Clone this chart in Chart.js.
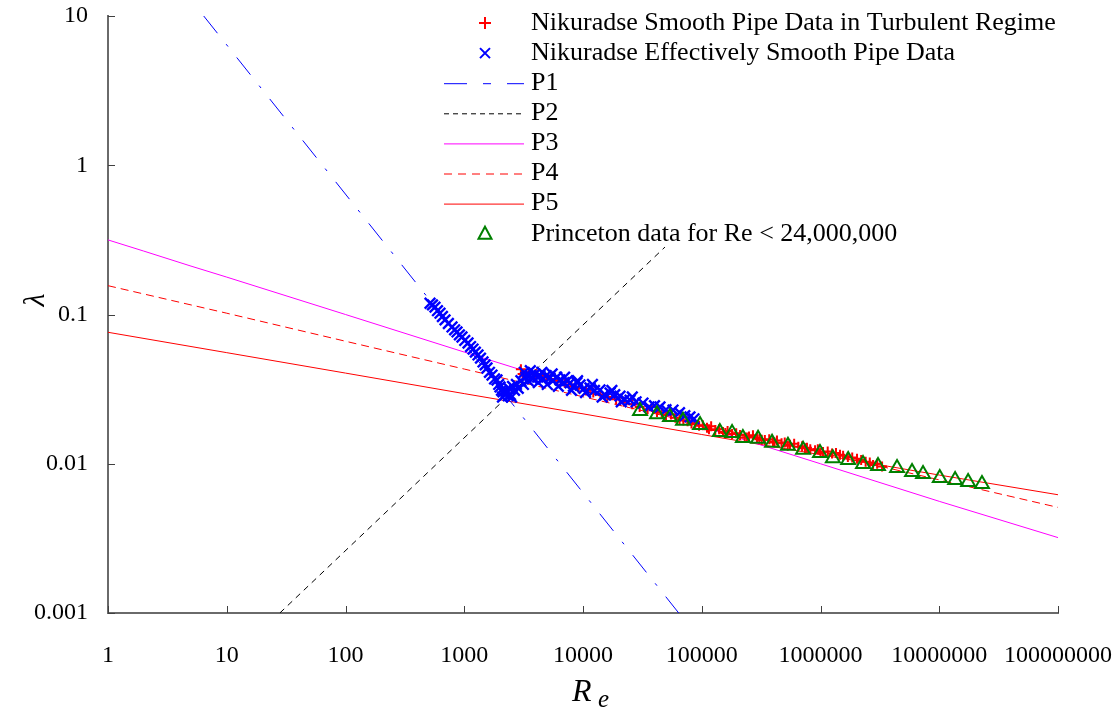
<!DOCTYPE html>
<html>
<head>
<meta charset="utf-8">
<title>Friction factor vs Reynolds number</title>
<script src="https://cdn.jsdelivr.net/npm/chart.js@4.4.0/dist/chart.umd.min.js"></script>
<style>
  body { margin: 0; background: #fff; }
</style>
</head>
<body>
<canvas id="frictionChart" width="1115" height="709"></canvas>
<script>
// axis ticks
const xTicks = [1, 10, 100, 1000, 10000, 100000, 1000000, 10000000, 100000000];
const xTickLabels = ['1', '10', '100', '1000', '10000', '100000', '1000000', '10000000', '100000000'];
const yTicks = [0.001, 0.01, 0.1, 1, 10];
const yTickLabels = ['0.001', '0.01', '0.1', '1', '10'];

// Nikuradse smooth pipe, turbulent (red +)
const smoothRe = [3000, 3100, 3500, 4000, 4600, 5300, 6100, 7000, 8000, 9200, 10600, 12200, 14000, 16000,
  19000, 22000, 26000, 30000, 35000, 42000, 50000, 60000, 70000, 82000, 95000, 110700, 120000, 130000,
  151000, 165000, 180000, 210000, 230000, 250000, 292000, 320000, 340000, 398000, 430000, 470000, 553000,
  600000, 650000, 769000, 820000, 900000, 1050000, 1150000, 1250000, 1460000, 1550000, 1700000, 2030000,
  2200000, 2400000, 2770000, 3000000, 3300000,
  38000, 46000, 55000, 65000, 76000, 88000, 102000, 115000, 140000, 158000, 195000, 240000, 270000,
  305000, 370000, 410000, 500000, 530000, 700000, 740000, 950000, 1000000, 1350000, 1850000, 2600000];
const smoothLambda = [0.043, 0.040, 0.041, 0.040, 0.039, 0.037, 0.036, 0.035, 0.033, 0.032, 0.031, 0.030, 0.029, 0.028,
  0.027, 0.026, 0.025, 0.024, 0.0232, 0.0222, 0.0212, 0.0203, 0.0195, 0.0186, 0.018, 0.0174, 0.0178, 0.0168,
  0.0163, 0.0166, 0.0158, 0.0156, 0.0150, 0.0152, 0.0149, 0.0145, 0.0144, 0.0140, 0.0143, 0.0137, 0.0134,
  0.0136, 0.0130, 0.0128, 0.0125, 0.0123, 0.0120, 0.0121, 0.0117, 0.0115, 0.0113, 0.0111, 0.0108,
  0.0106, 0.0103, 0.0098, 0.0100, 0.0096,
  0.0240, 0.0220, 0.0214, 0.0198, 0.0193, 0.0184, 0.0181, 0.0170, 0.0170, 0.0161, 0.0160, 0.0150, 0.0155,
  0.0146, 0.0146, 0.0139, 0.0139, 0.0132, 0.0131, 0.0127, 0.0125, 0.0118, 0.0118, 0.0110, 0.0102];

// Nikuradse effectively smooth (blue x)
const effRe = [515, 540, 567, 595, 625, 655, 689, 735, 789, 830, 869, 910, 957, 1010, 1076, 1130, 1186, 1240,
  1306, 1370, 1439, 1500, 1555, 1630, 1713, 1800, 1887, 1950, 2000, 2060, 2100, 2119, 2200, 2250, 2300, 2350,
  2380, 2450, 2500, 2550, 2650, 2750, 2850, 3000, 3150, 3200, 3300, 3450, 3580, 3600, 3750, 3950, 4150, 4200,
  4350, 4500, 4600, 4900, 5000, 5270, 5500, 5600, 6000, 6200, 6400, 6900, 7000, 7400, 7780, 8000, 8300, 8900,
  9000, 9440, 10200, 10500, 11450, 12000, 12500, 13900, 14500, 15300, 16900, 17500, 18500, 20500, 21000,
  22500, 24900, 26000, 28000, 32000, 36000, 40000, 44500, 50000, 57300, 65000, 72000, 79600, 86000];
const effLambda = [0.119, 0.116, 0.112, 0.106, 0.102, 0.097, 0.092, 0.087, 0.0825, 0.079, 0.0764, 0.073, 0.0707,
  0.067, 0.0644, 0.061, 0.0587, 0.056, 0.0536, 0.051, 0.0481, 0.046, 0.0438, 0.041, 0.0393, 0.037, 0.0364,
  0.034, 0.0327, 0.031, 0.028, 0.0303, 0.029, 0.031, 0.030, 0.0285, 0.032, 0.029, 0.028, 0.033, 0.031, 0.034,
  0.032, 0.036, 0.034, 0.041, 0.038, 0.036, 0.039, 0.042, 0.037, 0.040, 0.038, 0.035, 0.039, 0.041, 0.037,
  0.039, 0.034, 0.0376, 0.040, 0.036, 0.038, 0.033, 0.0364, 0.035, 0.038, 0.036, 0.0348, 0.031, 0.033, 0.035,
  0.036, 0.0337, 0.032, 0.030, 0.0322, 0.034, 0.031, 0.0312, 0.028, 0.029, 0.0298, 0.031, 0.029, 0.0284,
  0.026, 0.027, 0.0267, 0.028, 0.026, 0.0255, 0.024, 0.0245, 0.0240, 0.023, 0.0229, 0.022, 0.021, 0.0206, 0.020];

// Princeton data (green triangles)
const princetonRe = [30200, 42000, 54000, 69500, 96700, 142000, 180000, 222000, 298000, 391000, 532000, 713000,
  990000, 1270000, 1710000, 2280000, 3050000, 4410000, 5900000, 7300000, 10100000, 13600000, 17500000, 22900000];
const princetonLambda = [0.0226, 0.0215, 0.0206, 0.0194, 0.0182, 0.0163, 0.0161, 0.0149, 0.0147, 0.0138, 0.0132,
  0.0124, 0.0118, 0.0109, 0.0106, 0.00996, 0.00966, 0.00937, 0.0088, 0.00854, 0.00803, 0.00779, 0.00755, 0.00732];

// fitted curves
const p1Re = [6.4, 64000];
const p1Lambda = [10, 0.001];
const p2Re = [28, 49000];
const p2Lambda = [0.001, 0.283];
const p3Re = [1, 2, 5, 10, 100, 1000, 10000, 100000, 1000000, 10000000, 100000000];
const p3Lambda = [0.316, 0.266, 0.211, 0.178, 0.1, 0.056, 0.0316, 0.0178, 0.01, 0.0056, 0.0032];
const p4Re = [1, 10, 100, 1000, 10000, 100000, 1000000, 10000000, 100000000];
const p4Lambda = [0.156, 0.102, 0.0662, 0.0431, 0.0281, 0.0183, 0.0119, 0.0078, 0.0051];
const p5Re = [1, 10, 100, 1000, 10000, 100000, 1000000, 10000000, 100000000];
const p5Lambda = [0.076, 0.0555, 0.0405, 0.0295, 0.0216, 0.0157, 0.0115, 0.0084, 0.0062];

const serif = '"Liberation Serif", "Times New Roman", serif';

function pts(xs, ys) {
  return xs.map((x, i) => ({ x: x, y: ys[i] }));
}

function markerSet(label, xs, ys, style, color, radius, width, order) {
  return {
    label: label, data: pts(xs, ys), showLine: false,
    pointStyle: style, pointRadius: radius, pointHoverRadius: radius,
    borderColor: color, backgroundColor: 'rgba(0,0,0,0)', pointBorderWidth: width, borderWidth: width,
    order: order
  };
}

function lineSet(label, xs, ys, color, dash, legendDash) {
  return {
    label: label, data: pts(xs, ys), showLine: true, pointRadius: 0,
    borderColor: color, borderWidth: 1, borderDash: dash, legendDash: legendDash,
    fill: false, tension: 0, order: 5
  };
}

// no extra room for overhanging tick labels: plot box is set by layout padding
function noLabelPadding(scale) {
  scale.paddingLeft = 0;
  scale.paddingRight = 0;
  scale.paddingTop = 0;
  scale.paddingBottom = 0;
}

// inside ticks, axis titles and the legend
const framePlugin = {
  id: 'frame',
  afterDraw(chart) {
    const ctx = chart.ctx;
    const xs = chart.scales.x, ys = chart.scales.y;
    const area = chart.chartArea;
    ctx.save();
    ctx.strokeStyle = '#404040';
    ctx.lineWidth = 1;
    xTicks.forEach(v => {
      const px = Math.round(xs.getPixelForValue(v)) + 0.5;
      ctx.beginPath(); ctx.moveTo(px, area.bottom); ctx.lineTo(px, area.bottom - 7); ctx.stroke();
    });
    yTicks.forEach(v => {
      const py = Math.round(ys.getPixelForValue(v)) + 0.5;
      ctx.beginPath(); ctx.moveTo(area.left, py); ctx.lineTo(area.left + 7, py); ctx.stroke();
    });

    ctx.fillStyle = '#000';
    ctx.textAlign = 'left';
    ctx.textBaseline = 'alphabetic';
    ctx.font = 'italic 32px ' + serif;
    ctx.fillText('R', 572, 701);
    ctx.font = 'italic 25px ' + serif;
    ctx.fillText('e', 598, 707);

    ctx.save();
    ctx.translate(36, 300);
    ctx.rotate(-Math.PI / 2);
    ctx.font = 'italic 30px ' + serif;
    ctx.textAlign = 'center';
    ctx.textBaseline = 'middle';
    ctx.fillText('λ', 0, 0);
    ctx.restore();

    // legend
    const x0 = 444, x1 = 524, xm = 485, textX = 531;
    ctx.font = '26px ' + serif;
    ctx.textBaseline = 'middle';
    chart.data.datasets.forEach((ds, i) => {
      const y = 23 + i * 30.1;
      ctx.strokeStyle = ds.borderColor;
      if (ds.showLine) {
        ctx.lineWidth = 1;
        ctx.setLineDash(ds.legendDash || []);
        ctx.beginPath(); ctx.moveTo(x0, y + 0.5); ctx.lineTo(x1, y + 0.5); ctx.stroke();
        ctx.setLineDash([]);
      } else if (ds.pointStyle === 'cross') {
        ctx.lineWidth = 2;
        ctx.beginPath();
        ctx.moveTo(xm - 6, y); ctx.lineTo(xm + 6, y);
        ctx.moveTo(xm, y - 6); ctx.lineTo(xm, y + 6);
        ctx.stroke();
      } else if (ds.pointStyle === 'crossRot') {
        ctx.lineWidth = 2;
        ctx.beginPath();
        ctx.moveTo(xm - 5, y - 5); ctx.lineTo(xm + 5, y + 5);
        ctx.moveTo(xm + 5, y - 5); ctx.lineTo(xm - 5, y + 5);
        ctx.stroke();
      } else {
        ctx.lineWidth = 2;
        ctx.beginPath();
        ctx.moveTo(xm, y - 7); ctx.lineTo(xm + 6.5, y + 5); ctx.lineTo(xm - 6.5, y + 5);
        ctx.closePath(); ctx.stroke();
      }
      ctx.fillStyle = '#000';
      ctx.fillText(ds.label, textX, y);
    });
    ctx.restore();
  }
};

Chart.defaults.font.family = serif;
Chart.defaults.color = '#000';

const ctx = document.getElementById('frictionChart').getContext('2d');
const frictionChart = new Chart(ctx, {
  type: 'scatter',
  data: {
    datasets: [
      markerSet('Nikuradse Smooth Pipe Data in Turbulent Regime', smoothRe, smoothLambda, 'cross', '#ff0000', 5, 2, 3),
      markerSet('Nikuradse Effectively Smooth Pipe Data', effRe, effLambda, 'crossRot', '#0000ff', 7.5, 2.4, 2),
      lineSet('P1', p1Re, p1Lambda, '#0000ff', [22, 14, 3, 14], [23, 16, 8, 16]),
      lineSet('P2', p2Re, p2Lambda, '#000000', [6, 5], [5, 4]),
      lineSet('P3', p3Re, p3Lambda, '#ff00ff', [], []),
      lineSet('P4', p4Re, p4Lambda, '#ff0000', [8, 5], [8, 6]),
      lineSet('P5', p5Re, p5Lambda, '#ff0000', [], []),
      markerSet('Princeton data for Re < 24,000,000', princetonRe, princetonLambda, 'triangle', '#008000', 8, 2, 1)
    ]
  },
  options: {
    responsive: false,
    devicePixelRatio: 1,
    animation: false,
    layout: { padding: { top: 16, right: 57, left: 0, bottom: 0 } },
    plugins: {
      legend: { display: false },
      tooltip: { enabled: false }
    },
    scales: {
      x: {
        type: 'logarithmic',
        position: 'bottom',
        min: 1,
        max: 100000000,
        afterBuildTicks: scale => { scale.ticks = xTicks.map(v => ({ value: v })); },
        afterFit: scale => { scale.height = 96; noLabelPadding(scale); },
        grid: { display: false, drawTicks: false },
        border: { display: true, color: '#6a6a6a', width: 2 },
        ticks: {
          autoSkip: false, maxRotation: 0, padding: 28,
          font: { family: serif, size: 24 }, color: '#000',
          callback: (v, i) => xTickLabels[i]
        }
      },
      y: {
        type: 'logarithmic',
        min: 0.001,
        max: 10,
        afterBuildTicks: scale => { scale.ticks = yTicks.map(v => ({ value: v })); },
        afterFit: scale => { scale.width = 108; noLabelPadding(scale); },
        grid: { display: false, drawTicks: false },
        border: { display: true, color: '#6a6a6a', width: 2 },
        ticks: {
          autoSkip: false, padding: 20,
          font: { family: serif, size: 24 }, color: '#000',
          callback: (v, i) => yTickLabels[i]
        }
      }
    }
  },
  plugins: [framePlugin]
});
</script>
</body>
</html>
